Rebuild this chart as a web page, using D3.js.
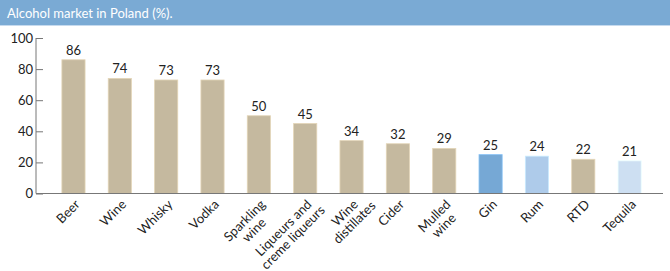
<!DOCTYPE html>
<html><head><meta charset="utf-8">
<script src="https://cdn.jsdelivr.net/npm/d3@7"></script>
<style>body{margin:0;background:#fff;} text{font-family:Lato,"Noto Sans",sans-serif;}</style>
</head><body>
<svg id="c" width="670" height="271"></svg>
<script>
const title = "Alcohol market in Poland (%).";
const categories = ["Beer","Wine","Whisky","Vodka","Sparkling\nwine","Liqueurs and\ncreme liqueurs","Wine\ndistillates","Cider","Mulled\nwine","Gin","Rum","RTD","Tequila"];
const values = [86,74,73,73,50,45,34,32,29,25,24,22,21];
const colorGroups = ["base","base","base","base","base","base","base","base","base","gin","rum","base","tequila"];
const yTicks = [0,20,40,60,80,100];
const palette = {base:"#c5b99f", gin:"#76a8d5", rum:"#aecbea", tequila:"#cddff2"};

const svg = d3.select("#c");
svg.append("rect").attr("x",0).attr("y",0).attr("width",670).attr("height",25).attr("fill","#7aaad4");
svg.append("rect").attr("x",0).attr("y",25).attr("width",670).attr("height",1).attr("fill","#c6daee");
svg.append("text").attr("x",7).attr("y",17.5).attr("fill","#fff").attr("font-size",13).text(title);

const x = d3.scaleBand().domain(categories).range([50.3,652.8]).paddingInner(0.5).paddingOuter(0.25);
const y = d3.scaleLinear().domain([0,100]).range([193.5,38]);

const g = svg.append("g");
g.selectAll("rect.bar").data(values).join("rect")
 .attr("class","bar")
 .attr("x",(d,i)=>x(categories[i]))
 .attr("width",x.bandwidth())
 .attr("y",d=>y(d))
 .attr("height",d=>y(0)-y(d))
 .attr("fill",(d,i)=>palette[colorGroups[i]])
 .attr("stroke",(d,i)=>d3.color(palette[colorGroups[i]]).brighter(0.4))
 .attr("stroke-width",0.8);

g.selectAll("text.val").data(values).join("text")
 .attr("class","val")
 .attr("x",(d,i)=>x(categories[i])+x.bandwidth()/2)
 .attr("y",d=>y(d)-5)
 .attr("text-anchor","middle").attr("font-size",13).attr("fill","#222")
 .text(d=>d);

const yAxis = d3.axisLeft(y).tickValues(yTicks).tickSize(-7).tickPadding(3);
const ya = svg.append("g").attr("transform","translate(36,0)").call(yAxis);
ya.selectAll("text").attr("font-size",13).attr("fill","#222").attr("x",-3).style("font-family","Lato,'Noto Sans',sans-serif");
ya.selectAll("line").attr("stroke","#777");
ya.select(".domain").attr("stroke","#777").attr("d","M0,38V193.5");

svg.append("line").attr("x1",36).attr("x2",663).attr("y1",193.5).attr("y2",193.5).attr("stroke","#777");

categories.forEach((c,i)=>{
  const cx = x(c)+x.bandwidth()/2;
  const lines = c.split("\n");
  const lg = svg.append("g").attr("transform",`translate(${cx+4},${202}) rotate(-45)`);
  const ts = lines.map((l,j)=>lg.append("text").attr("font-size",13).attr("fill","#222").attr("dy","0.35em").attr("y",j*13.5).text(l));
  const W1 = ts[0].node().getComputedTextLength();
  ts.forEach(t=>t.attr("x",-W1/2).attr("text-anchor","middle"));
});
</script>
</body></html>
